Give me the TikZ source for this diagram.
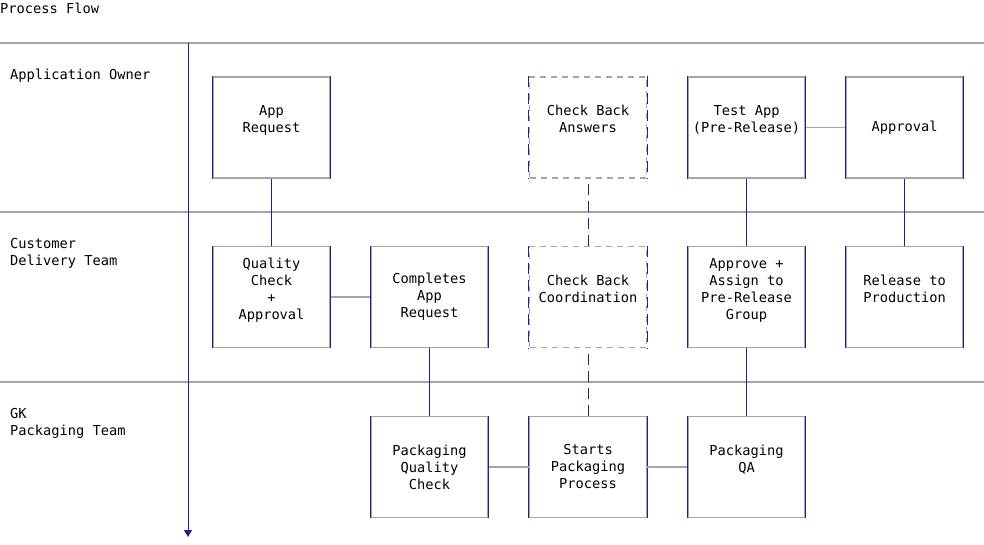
\documentclass[tikz,border=0pt]{standalone}
\usepackage{fontspec}
\setmonofont{DejaVu Sans Mono}
\usetikzlibrary{arrows.meta}
\definecolor{laneGray}{RGB}{165,165,165}
\definecolor{flowBlue}{RGB}{25,35,150}

\begin{document}
\begin{tikzpicture}[x=1pt, y=-1pt,
    every node/.style={font=\ttfamily\fontsize{13.7}{17}\selectfont},
    box/.style={draw=laneGray, line width=1.2pt, minimum width=117pt, minimum height=101pt, inner sep=0pt, align=center},
    dbox/.style={box, dash pattern=on 6pt off 5pt},
    lane/.style={draw=laneGray, line width=1.8pt},
    link/.style={draw=laneGray, line width=1.2pt},
    flow/.style={draw=flowBlue, line width=1pt},
    dflow/.style={flow, dash pattern=on 11pt off 6pt},
    title/.style={anchor=west, inner sep=0pt, align=left}]

    \useasboundingbox (0,0) rectangle (984,544);

    % Draw the title and the lanes.
    \node[title] (flow_t) at (0,8) {Process Flow};
    \draw[lane] (0,43) -- (984,43);
    \draw[lane] (0,212) -- (984,212);
    \draw[lane] (0,382) -- (984,382);

    % Draw the lane names.
    \node[title] (owner) at (10,76) {Application Owner};
    \node[title] (cdt) at (10,253.5) {Customer\\Delivery Team};
    \node[title] (gk) at (10,423.5) {GK\\Packaging Team};

    % Draw the time line.
    \coordinate (t_0) at (188,43);
    \coordinate (t_1) at (188,537);
    \draw[flow, -{Triangle[length=7pt, width=8pt]}] (t_0) -- (t_1);

    % Draw the boxes.
    % Application owner.
    \node[box] (req) at (271.5,127.5) {App\\Request\\~};
    \node[dbox] (chk_a) at (588,127.5) {Check Back\\Answers\\~};
    \node[box] (test) at (746.5,127.5) {Test App\\(Pre-Release)\\~};
    \node[box] (appr) at (904.5,127.5) {Approval};
    % Customer delivery team.
    \node[box] (qc) at (271.5,297) {Quality\\Check\\+\\Approval\\~};
    \node[box] (comp) at (429.5,297) {Completes\\App\\Request};
    \node[dbox] (chk_c) at (588,297) {Check Back\\Coordination\\~};
    \node[box] (assign) at (746.5,297) {Approve +\\Assign to\\Pre-Release\\Group\\~};
    \node[box] (rel) at (904.5,297) {Release to\\Production\\~};
    % Packaging team.
    \node[box] (pkg_qc) at (429.5,467) {Packaging\\Quality\\Check};
    \node[box] (start) at (588,467) {Starts\\Packaging\\Process};
    \node[box] (pkg_qa) at (746.5,467) {Packaging\\QA\\~};

    % Draw the box sides.
    \foreach \n in {req,test,appr,qc,comp,assign,rel,pkg_qc,start,pkg_qa}
      \draw[flow] (\n.north west) -- (\n.south west) (\n.north east) -- (\n.south east);
    \foreach \n in {chk_a,chk_c}
      \draw[dflow] (\n.north west) -- (\n.south west) (\n.north east) -- (\n.south east);

    % Draw the lines.
    % Across.
    \draw[link] (qc) -- (comp);
    \draw[link] (pkg_qc) -- (start);
    \draw[link] (start) -- (pkg_qa);
    \draw[link] (test) -- (appr);
    % Up and down.
    \draw[flow] (req) -- (qc);
    \draw[flow] (comp) -- (pkg_qc);
    \draw[dflow] (start) -- (chk_c);
    \draw[dflow] (chk_c) -- (chk_a);
    \draw[flow] (pkg_qa) -- (assign);
    \draw[flow] (assign) -- (test);
    \draw[flow] (appr) -- (rel);
  \end{tikzpicture}
\end{document}
